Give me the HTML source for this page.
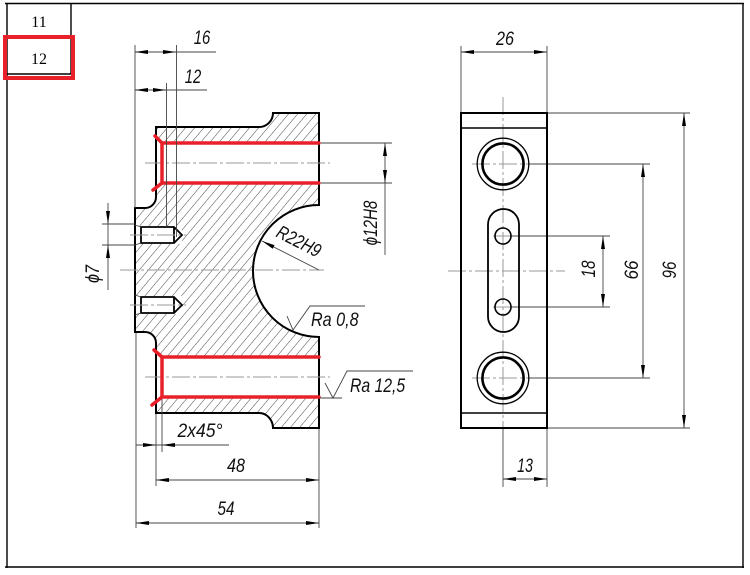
<!DOCTYPE html>
<html><head><meta charset="utf-8"><style>
html,body{margin:0;padding:0;background:#fff;}
svg{display:block;}
.d{font-family:"Liberation Sans",sans-serif;font-style:italic;font-size:19px;fill:#111;}
.s{font-family:"Liberation Serif",serif;font-size:16px;fill:#000;}
</style></head><body>
<svg width="750" height="575" viewBox="0 0 750 575" xmlns="http://www.w3.org/2000/svg">
<defs>
<pattern id="h" patternUnits="userSpaceOnUse" width="7" height="20" patternTransform="rotate(40)">
<line x1="0" y1="-2" x2="0" y2="22" stroke="#333" stroke-width="0.9"/>
</pattern>
</defs>

<!-- frame -->
<g stroke="#000" stroke-width="1.4" fill="none">
<line x1="5" y1="3.5" x2="744" y2="3.5"/>
<line x1="7" y1="3" x2="7" y2="568"/>
<line x1="5" y1="567" x2="744" y2="567"/>
<line x1="743" y1="3" x2="743" y2="568"/>
<line x1="71" y1="3" x2="71" y2="74"/>
<line x1="7" y1="37" x2="71" y2="37"/>
<line x1="7" y1="74" x2="71" y2="74"/>
</g>
<text class="s" x="39" y="27" text-anchor="middle">11</text>
<text class="s" x="39" y="64" text-anchor="middle">12</text>
<rect x="5" y="37" width="68" height="41" fill="none" stroke="#e8202a" stroke-width="4"/>

<!-- LEFT VIEW: hatched section -->
<path d="M156,127 L259,127 A14,14 0 0 0 273,113 L319,113 L319,205 A66,66 0 0 0 319,337 L319,428 L273,428 A14,15 0 0 0 259,413 L156,413 L156,343 A11,11 0 0 0 145,332 L135,332 L135,208 L145,208 A11,11 0 0 0 156,197 Z" fill="url(#h)" stroke="none"/>
<polygon points="156,136 163,143 319,143 319,183 163,183 156,190" fill="#fff"/>
<polygon points="156,350 163,357 319,357 319,397 163,397 156,405" fill="#fff"/>
<rect x="136" y="226" width="46" height="18" fill="#fff"/>
<rect x="136" y="296" width="46" height="18" fill="#fff"/>

<path d="M156,127 L259,127 A14,14 0 0 0 273,113 L319,113 L319,205 A66,66 0 0 0 319,337 L319,428 L273,428 A14,15 0 0 0 259,413 L156,413 L156,343 A11,11 0 0 0 145,332 L135,332 L135,208 L145,208 A11,11 0 0 0 156,197 Z" fill="none" stroke="#000" stroke-width="2"/>

<!-- threaded holes -->
<g fill="none" stroke="#000" stroke-width="1.8">
<path d="M141,227 L174,227 L182,235 L174,243 L141,243 Z"/>
<line x1="174" y1="227" x2="174" y2="243"/>
<path d="M141,297 L174,297 L182,305 L174,313 L141,313 Z"/>
<line x1="174" y1="297" x2="174" y2="313"/>
</g>
<g stroke="#444" stroke-width="0.9" fill="none">
<line x1="135" y1="225" x2="141" y2="227"/>
<line x1="135" y1="245" x2="141" y2="243"/>
<line x1="135" y1="295" x2="141" y2="297"/>
<line x1="135" y1="315" x2="141" y2="313"/>
</g>

<!-- centerlines left view -->
<g stroke="#999" stroke-width="1" fill="none" stroke-dasharray="18,3,3,3">
<line x1="145" y1="163" x2="330" y2="163"/>
<line x1="145" y1="377" x2="330" y2="377"/>
<line x1="120" y1="270" x2="324" y2="270"/>
<line x1="130" y1="235" x2="186" y2="235"/>
<line x1="130" y1="305" x2="186" y2="305"/>
</g>

<!-- red bore lines -->
<g stroke="#e8202a" stroke-width="3.5" fill="none" stroke-linecap="round" stroke-linejoin="round">
<polyline points="155,136 162,143 319,143"/>
<polyline points="153,190 162,183 319,183"/>
<line x1="162" y1="143" x2="162" y2="183"/>
<polyline points="154,350 162,357 319,357"/>
<polyline points="152,405 162,397 319,397"/>
<line x1="162" y1="357" x2="162" y2="397"/>
</g>

<!-- dimension / extension lines left view -->
<g stroke="#444" stroke-width="0.9" fill="none">
<line x1="135" y1="45" x2="135" y2="208"/>
<line x1="176.5" y1="45" x2="176.5" y2="237"/>
<line x1="166.5" y1="83" x2="166.5" y2="227"/>
<line x1="135" y1="52" x2="216" y2="52"/>
<line x1="135" y1="90" x2="207" y2="90"/>
<line x1="321" y1="143" x2="392" y2="143"/>
<line x1="321" y1="183" x2="392" y2="183"/>
<line x1="385" y1="143" x2="385" y2="255"/>
<line x1="102" y1="224" x2="135" y2="224"/>
<line x1="102" y1="245" x2="135" y2="245"/>
<line x1="108" y1="203" x2="108" y2="290"/>
<line x1="262" y1="241" x2="319" y2="270"/>
<polyline points="287,316 293,330 310,306 365,306"/>
<polyline points="325,383 333,398 347,371 413,371"/>
<line x1="320" y1="398" x2="342" y2="398"/>
<line x1="162" y1="399" x2="162" y2="452"/>
<line x1="156" y1="414" x2="156" y2="486"/>
<line x1="136" y1="333" x2="136" y2="528"/>
<line x1="319" y1="429" x2="319" y2="528"/>
<line x1="136" y1="445" x2="229" y2="445"/>
<line x1="156" y1="480" x2="319" y2="480"/>
<line x1="136" y1="523" x2="319" y2="523"/>
</g>
<g fill="#000">
<polygon points="135,52 148,50 148,54"/><polygon points="176,52 163,50 163,54"/>
<polygon points="135,90 148,88 148,92"/><polygon points="166,90 153,88 153,92"/>
<polygon points="385,143 383,156 387,156"/><polygon points="385,183 383,170 387,170"/>
<polygon points="108,224 106,211 110,211"/><polygon points="108,245 106,258 110,258"/>
<polygon points="262,241 274.5,245.1 272.7,248.7"/>
<polygon points="156,445 143,443 143,447"/><polygon points="162,445 175,443 175,447"/>
<polygon points="156,480 169,478 169,482"/><polygon points="319,480 306,478 306,482"/>
<polygon points="136,523 149,521 149,525"/><polygon points="319,523 306,521 306,525"/>
</g>

<!-- labels left view -->
<text class="d" transform="translate(202,44) scale(0.78,1)" text-anchor="middle">16</text>
<text class="d" transform="translate(193,83) scale(0.78,1)" text-anchor="middle">12</text>
<text class="d" transform="translate(377,223) rotate(-90) scale(0.8,1)" text-anchor="middle">ϕ12H8</text>
<text class="d" transform="translate(99,274) rotate(-90) scale(0.85,1)" text-anchor="middle">ϕ7</text>
<text class="d" transform="translate(296,247) rotate(27) scale(0.8,1)" text-anchor="middle">R22H9</text>
<text class="d" transform="translate(311,326) scale(0.85,1)">Ra 0,8</text>
<text class="d" transform="translate(350,392) scale(0.83,1)">Ra 12,5</text>
<text class="d" transform="translate(200,437) scale(0.92,1)" text-anchor="middle">2x45°</text>
<text class="d" transform="translate(236,472) scale(0.85,1)" text-anchor="middle">48</text>
<text class="d" transform="translate(226,515) scale(0.8,1)" text-anchor="middle">54</text>

<!-- RIGHT VIEW -->
<g stroke="#444" stroke-width="0.9" fill="none">
<line x1="461" y1="46" x2="461" y2="113"/>
<line x1="547" y1="46" x2="547" y2="113"/>
<line x1="461" y1="52" x2="547" y2="52"/>
<line x1="548" y1="113" x2="690" y2="113"/>
<line x1="548" y1="428" x2="690" y2="428"/>
<line x1="529" y1="164" x2="650" y2="164"/>
<line x1="529" y1="378" x2="650" y2="378"/>
<line x1="511" y1="236" x2="610" y2="236"/>
<line x1="511" y1="307" x2="610" y2="307"/>
<line x1="603" y1="236" x2="603" y2="307"/>
<line x1="643" y1="164" x2="643" y2="378"/>
<line x1="684" y1="113" x2="684" y2="428"/>
<line x1="547" y1="429" x2="547" y2="487"/>
<line x1="503" y1="429" x2="503" y2="487"/>
<line x1="503" y1="479" x2="547" y2="479"/>
</g>
<g stroke="#999" stroke-width="1" fill="none" stroke-dasharray="18,3,3,3">
<line x1="503" y1="97" x2="503" y2="429"/>
<line x1="448" y1="271" x2="565" y2="271"/>
<line x1="472" y1="164" x2="529" y2="164"/>
<line x1="472" y1="378" x2="529" y2="378"/>
<line x1="493" y1="236" x2="512" y2="236"/>
<line x1="493" y1="307" x2="512" y2="307"/>
</g>
<g fill="none" stroke="#000">
<rect x="461" y="113" width="86" height="315" stroke-width="2"/>
<line x1="461" y1="128" x2="547" y2="128" stroke-width="1.5"/>
<line x1="461" y1="413" x2="547" y2="413" stroke-width="1.5"/>
<circle cx="503" cy="164" r="25.8" stroke-width="1.3"/>
<circle cx="503" cy="164" r="20.6" stroke-width="2.6"/>
<circle cx="503" cy="378" r="25.8" stroke-width="1.3"/>
<circle cx="503" cy="378" r="20.6" stroke-width="2.6"/>
<rect x="488" y="209" width="31" height="123" rx="15.5" ry="15.5" stroke-width="1.8"/>
<circle cx="503" cy="236" r="8" stroke-width="1.6"/>
<circle cx="503" cy="307" r="8" stroke-width="1.6"/>
</g>
<g fill="#000">
<polygon points="461,52 474,50 474,54"/><polygon points="547,52 534,50 534,54"/>
<polygon points="603,236 601,249 605,249"/><polygon points="603,307 601,294 605,294"/>
<polygon points="643,164 641,177 645,177"/><polygon points="643,378 641,365 645,365"/>
<polygon points="684,113 682,126 686,126"/><polygon points="684,428 682,415 686,415"/>
<polygon points="503,479 516,477 516,481"/><polygon points="547,479 534,477 534,481"/>
</g>
<text class="d" transform="translate(505,45) scale(0.85,1)" text-anchor="middle">26</text>
<text class="d" transform="translate(525,472) scale(0.75,1)" text-anchor="middle">13</text>
<text class="d" transform="translate(595,269) rotate(-90) scale(0.8,1)" text-anchor="middle">18</text>
<text class="d" transform="translate(638,270) rotate(-90) scale(0.9,1)" text-anchor="middle">66</text>
<text class="d" transform="translate(676,270) rotate(-90) scale(0.8,1)" text-anchor="middle">96</text>
</svg>
</body></html>
